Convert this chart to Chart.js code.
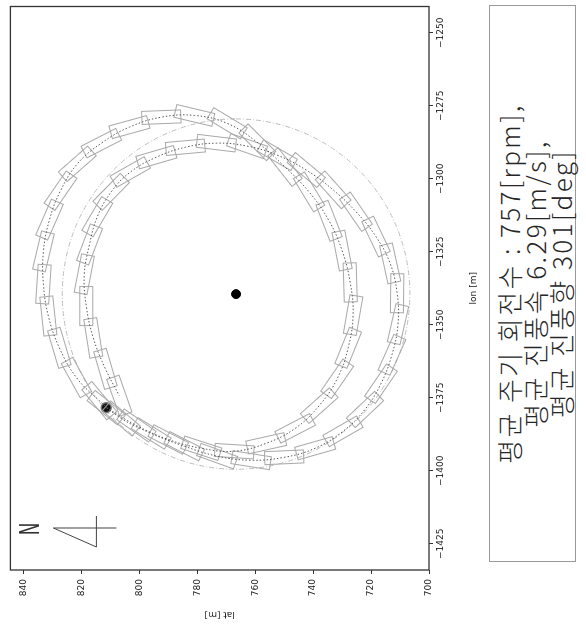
<!DOCTYPE html>
<html>
<head>
<meta charset="utf-8">
<script src="https://cdn.jsdelivr.net/npm/chart.js@4"></script>
<style>
  html, body { margin: 0; padding: 0; background: #fff; overflow: hidden; }
  /* figure is laid out landscape, then turned a quarter turn */
  #page { position: absolute; left: 0; top: 0; width: 630px; height: 586px;
          transform-origin: 0 0; transform: translate(0, 630px) rotate(-90deg); background: #fff; }
  #plot { position: absolute; left: 0; top: 0; }
  #note { position: absolute; left: 68px; top: 489px; width: 557px; height: 87px;
          border: 1px solid #9a9a9a; box-sizing: border-box; padding-top: 6px;
          font-family: "Noto Sans CJK KR Light", "Noto Sans CJK KR DemiLight", "Noto Sans CJK KR";
          font-weight: 300; font-size: 26px; line-height: 26px; letter-spacing: 2.4px;
          text-align: center; color: #262626; white-space: nowrap; }
</style>
</head>
<body>
<div id="page">
  <canvas id="plot" width="630" height="480"></canvas>
  <div id="note">평균 주기 회전수 : 757[rpm],<br>평균 진풍속 6.29[m/s],<br>평균 진풍향 301[deg]</div>
</div>
<script>
// flight track, two loops [m]
var trackLat = [811.4, 801.0, 790.0, 778.6, 767.2, 756.2, 746.2, 737.9, 731.7, 727.9,
  726.2, 727.2, 730.0, 734.5, 741.4, 749.7, 759.3, 769.7, 781.0, 792.4,
  803.4, 813.1, 821.4, 827.2, 831.0, 833.1, 833.1, 831.4, 827.6, 821.7, 813.8,
  806.2, 795.9, 784.5, 773.1, 761.4, 750.0, 739.3, 729.7, 722.1, 716.6,
  712.8, 710.7, 711.0, 713.4, 718.3, 725.2, 733.1, 742.4, 752.4, 762.8,
  773.4, 784.1, 794.1, 803.1, 809.7, 814.5, 817.2, 819.0, 818.3, 815.9, 811.7, 806.9];
var trackLon = [-1378.4, -1384.5, -1389.3, -1392.3, -1393.3, -1390.6, -1385.5, -1377.7, -1368.5, -1357.9,
  -1346.7, -1335.5, -1324.6, -1314.4, -1304.5, -1296.0, -1287.5, -1281.0, -1278.3, -1278.9,
  -1282.3, -1287.8, -1294.9, -1304.1, -1314.0, -1324.9, -1336.1, -1347.0, -1357.9, -1368.1, -1376.0,
  -1382.1, -1387.2, -1391.6, -1395.0, -1396.4, -1395.4, -1392.3, -1386.5, -1379.0, -1370.2,
  -1360.3, -1349.8, -1339.2, -1329.0, -1319.8, -1311.3, -1303.8, -1297.0, -1291.9, -1288.8,
  -1287.8, -1289.2, -1292.6, -1297.7, -1304.5, -1313.0, -1322.5, -1332.7, -1343.6, -1354.5, -1365.1, -1374.3];

var centerLat = 766.6, centerLon = -1339.5;   // rotation centre
var startLat = 811.4, startLon = -1378.4;     // launch point
var ringRadius = 60;                          // reference circle [m]

var lonTicks = [-1425, -1400, -1375, -1350, -1325, -1300, -1275, -1250];
var latTicks = [700, 720, 740, 760, 780, 800, 820, 840];

var track = trackLat.map(function (v, i) { return { x: trackLon[i], y: v }; });

// outline used as the marker for each sample
var box = document.createElement('canvas');
box.width = 42; box.height = 16;
var bctx = box.getContext('2d');
bctx.strokeStyle = '#a8a8a8';
bctx.lineWidth = 1;
bctx.strokeRect(1.5, 1.5, 39, 13);
var boxTilt = 8;

function heading(c) {
  var pts = c.dataset.data, i = c.dataIndex;
  var a = pts[Math.max(i - 1, 0)], b = pts[Math.min(i + 1, pts.length - 1)];
  var sx = c.chart.scales.x, sy = c.chart.scales.y;
  var dx = sx.getPixelForValue(b.x) - sx.getPixelForValue(a.x);
  var dy = sy.getPixelForValue(b.y) - sy.getPixelForValue(a.y);
  return Math.atan2(dy, dx) * 180 / Math.PI + boxTilt;
}

var tickFont = { family: 'DejaVu Sans', size: 9 };

// full frame, dashed reference circle and north arrow
var decor = {
  id: 'decor',
  beforeDatasetsDraw: function (chart) {
    var ctx = chart.ctx, sx = chart.scales.x, sy = chart.scales.y;
    var cx = sx.getPixelForValue(centerLon), cy = sy.getPixelForValue(centerLat);
    var rx = Math.abs(sx.getPixelForValue(centerLon + ringRadius) - cx);
    var ry = Math.abs(sy.getPixelForValue(centerLat + ringRadius) - cy);
    ctx.save();
    ctx.strokeStyle = '#bdbdbd';
    ctx.lineWidth = 1;
    ctx.setLineDash([5, 2, 1, 2]);
    ctx.beginPath();
    ctx.ellipse(cx, cy, rx, ry, 0, 0, Math.PI * 2);
    ctx.stroke();
    ctx.restore();
  },
  afterDatasetsDraw: function (chart) {
    var ctx = chart.ctx, a = chart.chartArea;
    ctx.save();
    ctx.strokeStyle = '#333';
    ctx.lineWidth = 1.3;
    ctx.strokeRect(a.left, a.top, a.right - a.left, a.bottom - a.top);

    var tx = a.left + 42, ty = a.top + 43;
    ctx.lineWidth = 1;
    ctx.strokeStyle = '#444';
    ctx.beginPath();
    ctx.moveTo(tx, ty); ctx.lineTo(tx, ty + 63);
    ctx.moveTo(tx - 19, ty + 43); ctx.lineTo(tx + 12, ty + 43);
    ctx.moveTo(tx, ty); ctx.lineTo(tx - 19, ty + 43);
    ctx.stroke();

    ctx.fillStyle = '#333';
    ctx.font = '26px "DejaVu Sans"';
    ctx.textAlign = 'center';
    ctx.textBaseline = 'middle';
    ctx.translate(tx - 1, ty - 22);
    ctx.scale(0.65, 1);
    ctx.fillText('N', 0, 1);
    ctx.restore();
  }
};

new Chart(document.getElementById('plot'), {
  type: 'scatter',
  data: {
    datasets: [{
      data: track,
      showLine: true,
      borderColor: '#5a5a5a',
      borderWidth: 1,
      borderDash: [1.5, 2],
      tension: 0.4,
      pointRadius: 0
    }, {
      data: track,
      pointStyle: box,
      pointRadius: 3,
      rotation: heading
    }, {
      data: [{ x: centerLon, y: centerLat }],
      pointRadius: 4.5,
      backgroundColor: '#000',
      borderColor: '#000'
    }, {
      data: [{ x: startLon, y: startLat }],
      pointRadius: 5,
      backgroundColor: '#111',
      borderColor: '#777',
      borderWidth: 1.5
    }]
  },
  options: {
    responsive: false,
    animation: false,
    layout: { padding: { top: 9, right: 4, left: 0, bottom: 0 } },
    plugins: { legend: { display: false }, tooltip: { enabled: false } },
    scales: {
      x: {
        type: 'linear', position: 'bottom', min: -1434, max: -1241,
        afterBuildTicks: function (s) { s.ticks = lonTicks.map(function (v) { return { value: v }; }); },
        afterFit: function (s) { s.height = 51; },
        ticks: {
          font: tickFont, color: '#222', padding: 2, maxRotation: 0, autoSkip: false,
          callback: function (v) { return String(v).replace('-', '\u2212'); }
        },
        grid: { drawOnChartArea: false, drawTicks: true, tickLength: 4, color: '#333' },
        border: { display: false },
        title: { display: true, text: 'lon [m]', font: tickFont, color: '#222', padding: { top: 0, bottom: 1 } }
      },
      y: {
        type: 'linear', position: 'left', min: 700, max: 844.5,
        afterBuildTicks: function (s) { s.ticks = latTicks.map(function (v) { return { value: v }; }); },
        afterFit: function (s) { s.width = 60; },
        ticks: { font: tickFont, color: '#222', padding: 5, autoSkip: false },
        grid: { drawOnChartArea: false, drawTicks: true, tickLength: 4, color: '#333' },
        border: { display: false },
        title: { display: true, text: 'lat [m]', font: tickFont, color: '#222', padding: { top: 10, bottom: 0 } }
      }
    }
  },
  plugins: [decor]
});
</script>
</body>
</html>
